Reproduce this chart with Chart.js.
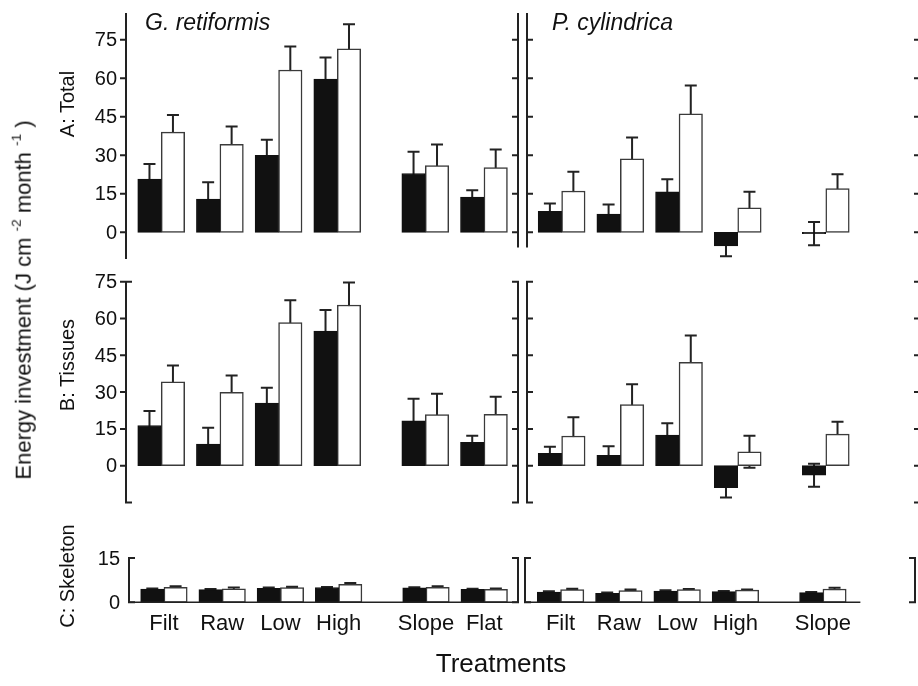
<!DOCTYPE html>
<html>
<head>
<meta charset="utf-8">
<script src="https://cdn.jsdelivr.net/npm/chart.js@4.4.1/dist/chart.umd.min.js"></script>
<style>
  body { margin: 0; background: #fff; }
  #wrap { position: relative; width: 918px; height: 686px; font-family: 'Liberation Sans', Arial, sans-serif; color: #111; }
  #wrap canvas { position: absolute; left: 0; top: 0; }
  .txt { position: absolute; white-space: nowrap; line-height: 1; }
  .rot { transform: translate(-50%, -50%) rotate(-90deg); }
  sup { font-size: 0.62em; vertical-align: 0.7em; }
</style>
</head>
<body>
<div id="wrap">
  <canvas id="aG" width="918" height="686"></canvas>
  <canvas id="aP" width="918" height="686"></canvas>
  <canvas id="bG" width="918" height="686"></canvas>
  <canvas id="bP" width="918" height="686"></canvas>
  <canvas id="cG" width="918" height="686"></canvas>
  <canvas id="cP" width="918" height="686"></canvas>

  <div class="txt" style="left:145px; top:11px; font-size:23px; font-style:italic;">G. retiformis</div>
  <div class="txt" style="left:552px; top:11px; font-size:23px; font-style:italic;">P. cylindrica</div>
  <div class="txt rot" style="left:22px; top:300px; font-size:22px;">Energy investment (J cm <sup>-2</sup> month <sup>-1</sup> )</div>
  <div class="txt rot" style="left:67px; top:104px; font-size:20px;">A: Total</div>
  <div class="txt rot" style="left:67px; top:365px; font-size:20px;">B: Tissues</div>
  <div class="txt rot" style="left:67px; top:576px; font-size:20px;">C: Skeleton</div>
  <div class="txt" style="left:501px; top:650px; font-size:26px; transform:translateX(-50%);">Treatments</div>
</div>

<script>
// categories
const catsG = ['Filt', 'Raw', 'Low', 'High', 'Slope', 'Flat'];
const catsP = ['Filt', 'Raw', 'Low', 'High', 'Slope'];

// A: Total (black bars = dark, white bars = open), with SE
const totalG_dark = [20.7, 12.9, 30.0, 59.7, 22.9, 13.7];
const totalG_darkSE = [5.9, 6.6, 6.0, 8.4, 8.5, 2.7];
const totalG_open = [39.0, 34.3, 63.2, 71.4, 26.0, 25.2];
const totalG_openSE = [6.7, 6.9, 9.1, 9.6, 8.2, 7.0];
const totalP_dark = [8.2, 7.1, 15.8, -5.3, -0.5];
const totalP_darkSE = [3.0, 3.7, 4.9, 4.0, 4.5];
const totalP_open = [16.1, 28.6, 46.1, 9.5, 17.0];
const totalP_openSE = [7.5, 8.3, 11.1, 6.3, 5.6];

// B: Tissues
const tissG_dark = [16.4, 8.8, 25.5, 54.9, 18.3, 9.5];
const tissG_darkSE = [5.9, 6.7, 6.3, 8.6, 9.0, 2.7];
const tissG_open = [34.2, 29.9, 58.3, 65.5, 20.8, 20.9];
const tissG_openSE = [6.6, 6.9, 9.1, 9.2, 8.5, 7.2];
const tissP_dark = [5.0, 4.2, 12.5, -9.0, -3.9];
const tissP_darkSE = [2.7, 3.7, 4.8, 4.0, 4.7];
const tissP_open = [12.1, 24.9, 42.1, 5.7, 12.9];
const tissP_openSE = [7.6, 8.3, 11.0, 6.5, 5.0];

// C: Skeleton
const skelG_dark = [4.5, 4.3, 4.7, 5.0, 4.9, 4.4];
const skelG_darkSE = [0.2, 0.2, 0.3, 0.2, 0.2, 0.2];
const skelG_open = [5.1, 4.6, 5.0, 6.1, 5.1, 4.4];
const skelG_openSE = [0.3, 0.4, 0.3, 0.4, 0.3, 0.3];
const skelP_dark = [3.5, 3.0, 3.8, 3.6, 3.3];
const skelP_darkSE = [0.2, 0.3, 0.3, 0.2, 0.2];
const skelP_open = [4.3, 4.0, 4.3, 4.1, 4.5];
const skelP_openSE = [0.3, 0.3, 0.2, 0.2, 0.4];

// tick labels
const ticksAB = [0, 15, 30, 45, 60, 75];
const ticksBRight = [-15, 0, 15, 30, 45, 60, 75];
const ticksC = [0, 15];

const W = 918, H = 686;
const FONT = '"Liberation Sans", Arial, sans-serif';
const INK = '#222';

// the light treatments sit together, the slope/flat ones after a half gap
function slot(i) { return i < 4 ? i : i + 0.5; }

// axis decoration, tick labels, category labels and error bars
function makeFrame(f) {
  return {
    id: 'frame',
    beforeDatasetsDraw(chart) {
      const ctx = chart.ctx, y = chart.scales.y;
      ctx.save();
      ctx.strokeStyle = INK;
      ctx.lineWidth = 2;
      chart.data.datasets.forEach((ds, di) => {
        chart.getDatasetMeta(di).data.forEach((bar, j) => {
          const v = ds.data[j].y, e = ds.errors[j];
          const hi = y.getPixelForValue(v + e), lo = y.getPixelForValue(v - e);
          ctx.beginPath();
          ctx.moveTo(bar.x, hi); ctx.lineTo(bar.x, lo);
          ctx.moveTo(bar.x - 6, hi); ctx.lineTo(bar.x + 6, hi);
          ctx.moveTo(bar.x - 6, lo); ctx.lineTo(bar.x + 6, lo);
          ctx.stroke();
        });
      });
      ctx.restore();
    },
    afterDraw(chart) {
      const ctx = chart.ctx, y = chart.scales.y, x = chart.scales.x;
      const area = chart.chartArea;
      ctx.save();
      ctx.strokeStyle = INK;
      ctx.lineWidth = 2;
      ctx.lineCap = 'square';
      (f.sides || []).forEach(s => {
        const x0 = s.pos === 'left' ? area.left : area.right;
        const inward = s.pos === 'left' ? 1 : -1;
        ctx.beginPath();
        if (s.line) {
          ctx.moveTo(x0, y.getPixelForValue(s.from));
          ctx.lineTo(x0, y.getPixelForValue(s.to));
        }
        if (s.caps) {
          [s.from, s.to].forEach(v => {
            const py = y.getPixelForValue(v);
            ctx.moveTo(x0, py); ctx.lineTo(x0 + inward * 5, py);
          });
        }
        (s.ticks || []).forEach(v => {
          const py = y.getPixelForValue(v);
          ctx.moveTo(x0, py); ctx.lineTo(x0 + s.dir * (s.len || 5), py);
        });
        ctx.stroke();
      });
      if (f.baseline) {
        const py = y.getPixelForValue(0);
        ctx.beginPath();
        ctx.moveTo(area.left, py);
        ctx.lineTo(f.baseline.to != null ? x.getPixelForValue(f.baseline.to) : area.right, py);
        ctx.lineWidth = 1.5;
        ctx.stroke();
      }
      ctx.fillStyle = '#111';
      if (f.labels) {
        ctx.font = '20px ' + FONT;
        ctx.textAlign = 'right';
        ctx.textBaseline = 'middle';
        f.labels.forEach(v => ctx.fillText(String(v), area.left - 9, y.getPixelForValue(v) + 1));
      }
      if (f.cats) {
        ctx.font = '22px ' + FONT;
        ctx.textAlign = 'center';
        ctx.textBaseline = 'alphabetic';
        f.cats.forEach((c, i) => ctx.fillText(c, x.getPixelForValue(slot(i)), area.bottom + 28));
      }
      ctx.restore();
    }
  };
}

function makeChart(id, geo, cats, dark, darkSE, open, openSE, frame) {
  const toXY = arr => arr.map((v, i) => ({ x: slot(i), y: v }));
  // each bar takes 40% of one category step
  const barW = (geo.right - geo.left) / (geo.xmax - geo.xmin) * 0.4;
  return new Chart(document.getElementById(id), {
    type: 'bar',
    data: {
      datasets: [
        { label: 'black', data: toXY(dark), errors: darkSE, backgroundColor: '#111', borderColor: '#111',
          borderWidth: 1, borderSkipped: false, barThickness: barW },
        { label: 'white', data: toXY(open), errors: openSE, backgroundColor: '#fff', borderColor: '#3a3a3a',
          borderWidth: 1.5, borderSkipped: false, barThickness: barW }
      ]
    },
    options: {
      responsive: false,
      animation: false,
      devicePixelRatio: 1,
      layout: { padding: { left: geo.left, right: W - geo.right, top: geo.top, bottom: H - geo.bottom } },
      scales: {
        x: { type: 'linear', min: geo.xmin, max: geo.xmax, offset: false, display: false,
             grid: { offset: false },
             afterBuildTicks: s => { s.ticks = cats.map((c, i) => ({ value: slot(i) })); } },
        y: { min: geo.ymin, max: geo.ymax, display: false }
      },
      plugins: { legend: { display: false }, tooltip: { enabled: false } }
    },
    plugins: [makeFrame(frame)]
  });
}

const colG = { left: 126, right: 518, xmin: -0.6, xmax: 6.08 };
const colP = { left: 527, right: 915, xmin: -0.59, xmax: 6.02 };
const rowA = { top: 14, bottom: 258, ymin: -10, ymax: 85 };
const rowB = { top: 281.7, bottom: 502.5, ymin: -15, ymax: 75 };
const rowC = { top: 558, bottom: 602.3, ymin: 0, ymax: 15 };

// A: Total
makeChart('aG', { ...colG, ...rowA }, catsG, totalG_dark, totalG_darkSE, totalG_open, totalG_openSE, {
  labels: ticksAB,
  sides: [
    { pos: 'left', line: true, from: -10, to: 85, ticks: ticksAB, dir: -1 },
    { pos: 'right', line: true, from: -5.5, to: 85, ticks: ticksAB, dir: -1 }
  ]
});
makeChart('aP', { ...colP, ...rowA }, catsP, totalP_dark, totalP_darkSE, totalP_open, totalP_openSE, {
  sides: [
    { pos: 'left', line: true, from: -5.5, to: 85, ticks: ticksAB, dir: 1 },
    { pos: 'right', line: false, ticks: ticksAB, dir: 1, len: 4 }
  ]
});

// B: Tissues
makeChart('bG', { ...colG, ...rowB }, catsG, tissG_dark, tissG_darkSE, tissG_open, tissG_openSE, {
  labels: ticksAB,
  sides: [
    { pos: 'left', line: true, caps: true, from: -15, to: 75, ticks: ticksAB, dir: -1 },
    { pos: 'right', line: true, caps: true, from: -15, to: 75, ticks: ticksAB, dir: -1 }
  ]
});
makeChart('bP', { ...colP, ...rowB }, catsP, tissP_dark, tissP_darkSE, tissP_open, tissP_openSE, {
  sides: [
    { pos: 'left', line: true, caps: true, from: -15, to: 75, ticks: ticksAB, dir: 1 },
    { pos: 'right', line: false, ticks: ticksBRight, dir: 1, len: 4 }
  ]
});

// C: Skeleton
makeChart('cG', { ...colG, ...rowC, left: 129 }, catsG, skelG_dark, skelG_darkSE, skelG_open, skelG_openSE, {
  labels: ticksC,
  cats: catsG,
  baseline: {},
  sides: [
    { pos: 'left', line: true, caps: true, from: 0, to: 15 },
    { pos: 'right', line: true, caps: true, from: 0, to: 15 }
  ]
});
makeChart('cP', { ...colP, ...rowC, left: 525, xmin: -0.61, xmax: 6.08 }, catsP, skelP_dark, skelP_darkSE, skelP_open, skelP_openSE, {
  cats: catsP,
  baseline: { to: 5.13 },
  sides: [
    { pos: 'left', line: true, caps: true, from: 0, to: 15 },
    { pos: 'right', line: true, caps: true, from: 0, to: 15 }
  ]
});
</script>
</body>
</html>
